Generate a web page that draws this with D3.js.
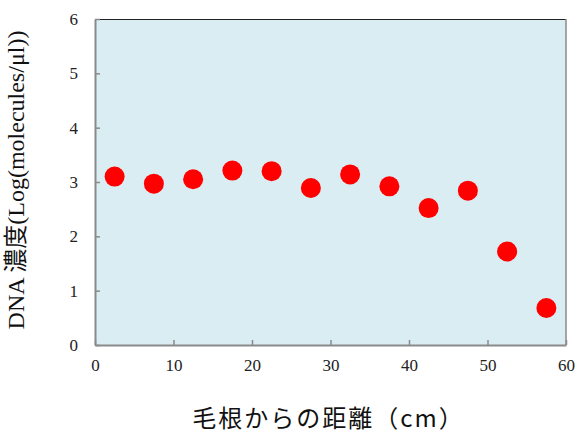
<!DOCTYPE html>
<html>
<head>
<meta charset="utf-8">
<script src="https://cdn.jsdelivr.net/npm/d3@7"></script>
<style>
  body { margin: 0; background: #fff; }
  svg text.tk { font-family: "Liberation Serif", "DejaVu Serif", serif; font-size: 17px; }
</style>
</head>
<body>
<div id="chart"></div>
<script>
// distance from hair root (cm) and DNA concentration (log molecules/ul)
var distances = [2.5, 7.5, 12.5, 17.5, 22.5, 27.5, 32.5, 37.5, 42.5, 47.5, 52.5, 57.5];
var concentrations = [3.10, 2.97, 3.05, 3.21, 3.20, 2.89, 3.14, 2.92, 2.52, 2.84, 1.72, 0.68];
var xTicks = [0, 10, 20, 30, 40, 50, 60];
var yTicks = [0, 1, 2, 3, 4, 5, 6];

var margin = {top: 19, right: 12, bottom: 90, left: 95},
    width = 578 - margin.left - margin.right,
    height = 435 - margin.top - margin.bottom;

var svg = d3.select("#chart").append("svg")
    .attr("width", 578)
    .attr("height", 435)
    .append("g")
    .attr("transform", "translate(" + margin.left + "," + margin.top + ")");

var x = d3.scaleLinear().domain([0, 60]).range([0, width]);
var y = d3.scaleLinear().domain([0, 6]).range([height, 0]);

// plot background
svg.append("rect")
    .attr("width", width)
    .attr("height", height)
    .attr("fill", "#daedf3");

// top and right frame
svg.append("line")
    .attr("x1", 0).attr("x2", width).attr("y1", 0.5).attr("y2", 0.5)
    .attr("stroke", "#222").attr("stroke-width", 1);
svg.append("line")
    .attr("x1", width).attr("x2", width).attr("y1", 0).attr("y2", height)
    .attr("stroke", "#8a8a8a").attr("stroke-width", 1.5);

// axes, ticks pointing into the plot
var xAxis = svg.append("g")
    .attr("transform", "translate(0," + height + ")")
    .call(d3.axisBottom(x).tickValues(xTicks).tickFormat(d3.format("d"))
        .tickSizeInner(-5).tickSizeOuter(0).tickPadding(14));
var yAxis = svg.append("g")
    .call(d3.axisLeft(y).tickValues(yTicks).tickFormat(d3.format("d"))
        .tickSizeInner(-5).tickSizeOuter(0).tickPadding(17));

[xAxis, yAxis].forEach(function(a) {
    a.attr("font-family", "Liberation Serif").attr("font-size", 17);
    a.select(".domain").attr("stroke", "#8a8a8a").attr("stroke-width", 2);
    a.selectAll(".tick line").attr("stroke", "#8a8a8a").attr("stroke-width", 1.5);
    a.selectAll(".tick text")
        .attr("class", "tk")
        .attr("fill", "#222");
});

// points
svg.selectAll("circle.pt")
    .data(distances)
    .enter().append("circle")
    .attr("class", "pt")
    .attr("cx", function(d) { return x(d); })
    .attr("cy", function(d, i) { return y(concentrations[i]); })
    .attr("r", 10)
    .attr("fill", "#ff0000");

// axis titles
svg.append("text")
    .attr("transform", "rotate(-90)")
    .attr("x", -height / 2 + 2)
    .attr("y", -71)
    .attr("text-anchor", "middle")
    .style("font-family", "'Liberation Serif', 'Noto Sans CJK JP', serif")
    .style("font-size", "24px")
    .style("fill", "#111")
    .text("DNA 濃度(Log(molecules/μl))");

svg.append("text")
    .attr("x", width / 2 - 2)
    .attr("y", height + 82)
    .attr("text-anchor", "middle")
    .style("font-family", "'Noto Sans CJK JP', sans-serif")
    .style("font-size", "24px")
    .style("letter-spacing", "2px")
    .style("fill", "#111")
    .text("毛根からの距離（cm）");
</script>
</body>
</html>
